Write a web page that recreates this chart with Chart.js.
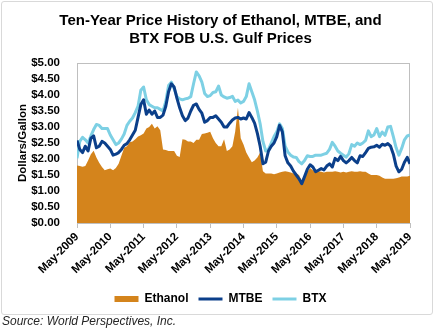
<!DOCTYPE html>
<html>
<head>
<meta charset="utf-8">
<script src="https://cdn.jsdelivr.net/npm/chart.js@4.4.1/dist/chart.umd.min.js"></script>
<style>
  html, body { margin: 0; padding: 0; background: #fff; }
  #wrap { position: relative; width: 435px; height: 332px; }
  #frame { position: absolute; left: 1px; top: 1px; width: 432px; height: 314px; box-sizing: border-box;
           border: 1px solid #d9d9d9; border-radius: 3px; }
  #chart { position: absolute; left: 0; top: 0; }
  #source { position: absolute; left: 2px; top: 314px; font: italic 12px "Liberation Sans", Arial, sans-serif; color: #262626; }
</style>
</head>
<body>
<div id="wrap">
  <div id="frame"></div>
  <canvas id="chart" width="435" height="332"></canvas>
  <div id="source">Source: World Perspectives, Inc.</div>
</div>
<script>
// Precios mensuales, mayo 2009 - mayo 2019 (USD/galón)
const tickLabels = ['May-2009', 'May-2010', 'May-2011', 'May-2012', 'May-2013', 'May-2014',
                    'May-2015', 'May-2016', 'May-2017', 'May-2018', 'May-2019'];

const ethanol = [
  1.8, 1.78, 1.76, 1.78, 1.95, 2.15, 2.26, 2.05, 1.88, 1.75,
  1.65, 1.68, 1.7, 1.65, 1.72, 1.85, 2.1, 2.35, 2.4, 2.52,
  2.55, 2.62, 2.7, 2.74, 2.8, 2.95, 3.0, 3.1, 2.95, 3.02,
  2.9, 2.3, 2.28, 2.25, 2.25, 2.25, 2.1, 2.06, 2.62, 2.6,
  2.55, 2.55, 2.5, 2.6, 2.6, 2.78, 2.8, 2.82, 2.85, 2.65,
  2.5, 2.4, 2.4, 2.62, 2.25, 2.3, 2.4, 2.85, 3.6, 2.65,
  2.45, 2.2, 2.05, 1.9, 1.95, 2.05, 2.2, 1.62, 1.55, 1.55,
  1.55, 1.52, 1.55, 1.58, 1.6, 1.62, 1.6, 1.58, 1.55, 1.55,
  1.5, 1.32, 1.5, 1.6, 1.72, 1.65, 1.6, 1.62, 1.6, 1.58,
  1.6, 1.6, 1.6, 1.62, 1.6, 1.58, 1.6, 1.58, 1.6, 1.62,
  1.6, 1.6, 1.62, 1.6, 1.6, 1.55, 1.5, 1.5, 1.5, 1.48,
  1.42, 1.38, 1.38, 1.38, 1.38, 1.4, 1.42, 1.45, 1.45, 1.45,
  1.48
];

const mtbe = [
  2.58, 2.3, 2.2, 2.4, 2.25, 2.65, 2.72, 2.35, 2.4, 2.55,
  2.5, 2.4, 2.3, 2.12, 2.15, 2.2, 2.3, 2.43, 2.48, 2.6,
  2.75, 2.9, 3.3, 3.7, 3.85, 3.4, 3.53, 3.4, 3.5, 3.3,
  3.3, 3.37, 3.65, 4.1, 4.35, 4.25, 3.9, 3.6, 3.35, 3.2,
  3.28, 3.5, 3.68, 3.72, 3.55, 3.43, 3.15, 3.2, 3.3, 3.3,
  3.35, 3.25, 3.15, 3.0, 3.0, 3.12, 3.22, 3.28, 3.3, 3.25,
  3.28, 3.25, 3.45, 3.3, 3.12, 2.8, 2.4, 1.85, 1.9, 2.25,
  2.4, 2.5, 2.7, 3.05, 2.85, 2.1, 1.88, 1.78, 1.62, 1.5,
  1.38, 1.23, 1.45, 1.68, 1.82, 1.75, 1.6, 1.65, 1.7, 1.66,
  1.78, 1.85, 1.75, 2.02, 1.95, 2.08, 1.95, 1.88, 1.95, 2.05,
  1.95, 1.88, 2.1, 2.08, 2.2, 2.33, 2.37, 2.38, 2.43, 2.37,
  2.46, 2.43, 2.48, 2.4, 2.15, 1.78, 1.6, 1.68, 1.9, 2.05,
  1.85
];

const btx = [
  2.02, 2.55, 2.68, 2.6, 2.5, 2.72, 2.92, 3.08, 3.05, 2.95,
  2.95, 2.95, 2.75, 2.6, 2.45, 2.5, 2.62, 2.78, 3.05, 3.18,
  3.28, 3.45, 3.65, 4.15, 4.25, 3.85, 3.7, 3.65, 3.6, 3.6,
  3.55, 3.5, 3.8, 4.3, 4.4, 4.2, 3.95, 3.88, 3.85, 3.88,
  3.9, 3.95, 4.35, 4.72, 4.6, 4.4, 4.05, 3.95, 3.98, 4.08,
  4.1, 4.28, 4.0, 3.94, 3.9, 3.92, 3.96, 3.8, 3.84, 3.75,
  3.8, 3.95, 4.35, 4.1, 3.85, 3.5, 3.1, 2.55, 2.25, 2.3,
  2.5, 2.7, 2.85, 3.1, 2.95, 2.4, 2.22, 2.12, 2.06, 2.05,
  1.92, 1.85, 1.95, 2.1, 2.08, 2.08, 2.12, 2.12, 2.12, 2.15,
  2.18, 2.3, 2.52, 2.4, 2.25, 2.18, 2.12, 2.06, 2.17, 2.45,
  2.4, 2.5, 2.45, 2.5, 2.58, 2.88, 2.7, 2.75, 2.95, 2.7,
  2.84, 2.74, 3.0, 3.02, 2.7, 2.35, 2.12, 2.33, 2.6, 2.72,
  2.75
];

const colores = { ethanol: '#d4841c', mtbe: '#0b3f8a', btx: '#7dd0e4' };
const fuente = '"Liberation Sans", Arial, sans-serif';

function puntos(serie) {
    return serie.map((v, i) => ({ x: i, y: v }));
}

// Marco gris del área de trazado
const marcoPlot = {
    id: 'marcoPlot',
    beforeDatasetsDraw(chart) {
        const a = chart.chartArea;
        const ctx = chart.ctx;
        ctx.save();
        ctx.strokeStyle = '#bfbfbf';
        ctx.lineWidth = 1;
        ctx.strokeRect(a.left + 0.5, a.top + 0.5, a.right - a.left - 1, a.bottom - a.top);
        ctx.restore();
    }
};

new Chart(document.getElementById('chart'), {
    type: 'line',
    data: {
        datasets: [
            { label: 'Ethanol', data: puntos(ethanol), backgroundColor: colores.ethanol, borderWidth: 0,
              fill: 'origin', pointRadius: 0, order: 3 },
            { label: 'MTBE', data: puntos(mtbe), borderColor: colores.mtbe, borderWidth: 3,
              fill: false, pointRadius: 0, order: 1 },
            { label: 'BTX', data: puntos(btx), borderColor: colores.btx, borderWidth: 3,
              fill: false, pointRadius: 0, order: 2 }
        ]
    },
    options: {
        responsive: false,
        animation: false,
        layout: { padding: { left: 6, right: 0, top: 0, bottom: 17 } },
        elements: { line: { tension: 0, borderJoinStyle: 'round' } },
        plugins: {
            title: {
                display: true,
                text: ['Ten-Year Price History of Ethanol, MTBE, and', 'BTX FOB U.S. Gulf Prices'],
                color: '#000',
                font: { family: fuente, size: 15, weight: 'bold', lineHeight: 1.2 },
                padding: { top: 12, bottom: 15 }
            },
            legend: {
                position: 'bottom',
                labels: {
                    color: '#000',
                    font: { family: fuente, size: 12, weight: 'bold' },
                    usePointStyle: true,
                    pointStyleWidth: 24,
                    boxHeight: 6,
                    padding: 10,
                    generateLabels: (chart) => chart.data.datasets.map((ds, i) => ({
                        text: ds.label,
                        datasetIndex: i,
                        hidden: false,
                        fontColor: '#000',
                        pointStyle: i === 0 ? 'rect' : 'line',
                        fillStyle: i === 0 ? ds.backgroundColor : ds.borderColor,
                        strokeStyle: i === 0 ? ds.backgroundColor : ds.borderColor,
                        lineWidth: i === 0 ? 0 : 3
                    }))
                }
            },
            tooltip: { enabled: false }
        },
        scales: {
            x: {
                type: 'linear',
                min: 0,
                max: 120,
                afterFit: (s) => { s.height = 60; },
                afterBuildTicks: (s) => { s.ticks = tickLabels.map((t, i) => ({ value: i * 12 })); },
                ticks: {
                    autoSkip: false,
                    minRotation: 45,
                    maxRotation: 45,
                    padding: 2,
                    color: '#000',
                    font: { family: fuente, size: 11.5, weight: 'bold' },
                    callback: (v) => tickLabels[Math.round(v / 12)]
                },
                grid: { display: true, drawOnChartArea: false, tickLength: 5, color: '#bfbfbf' },
                border: { display: true, color: '#bfbfbf' }
            },
            y: {
                min: 0,
                max: 5,
                afterFit: (s) => { s.width = 71; },
                ticks: {
                    stepSize: 0.5,
                    autoSkip: false,
                    padding: 9,
                    color: '#000',
                    font: { family: fuente, size: 11.5, weight: 'bold' },
                    callback: (v) => '$' + v.toFixed(2)
                },
                grid: { display: false },
                border: { display: false },
                title: {
                    display: true,
                    text: 'Dollars/Gallon',
                    color: '#000',
                    font: { family: fuente, size: 11.5, weight: 'bold' },
                    padding: { top: 10, bottom: 0 }
                }
            },
            yR: {
                position: 'right',
                display: true,
                afterFit: (s) => { s.width = 25; },
                ticks: { display: false },
                grid: { display: false },
                border: { display: false }
            }
        }
    },
    plugins: [marcoPlot]
});
</script>
</body>
</html>
